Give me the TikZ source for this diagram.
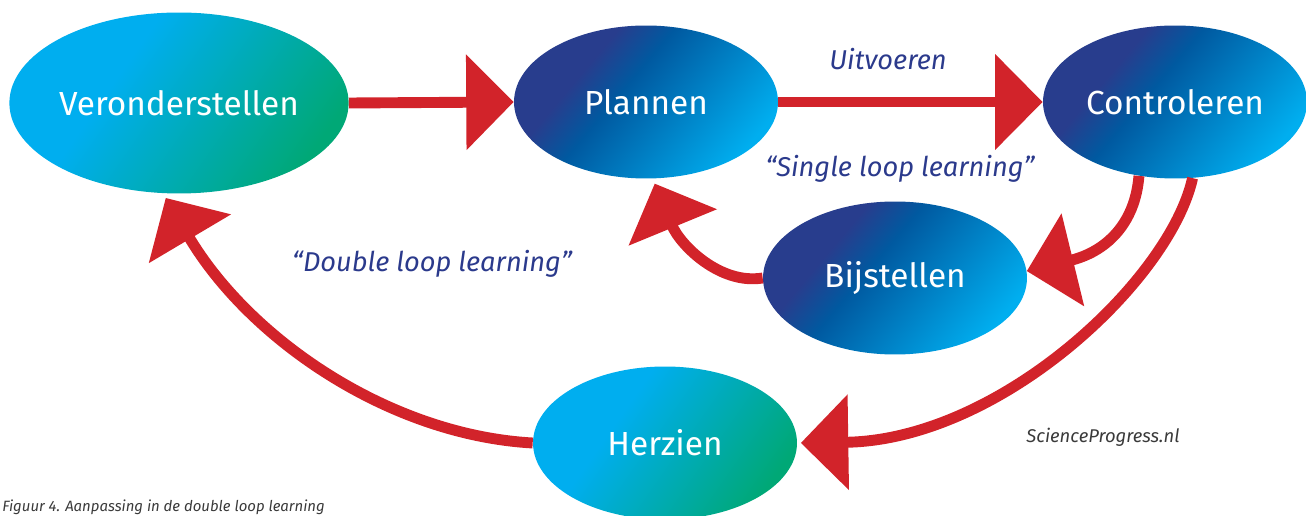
\documentclass[tikz,border=0pt]{standalone}
\usepackage{fontspec}
\setmainfont{Fira Sans}
\usepackage{xcolor}
\usepackage{tikz}
\usetikzlibrary{arrows.meta,shapes.geometric}

\definecolor{arrowred}{HTML}{D2232A}
\definecolor{labelblue}{HTML}{2B3A8C}
\definecolor{credgray}{HTML}{3A3A3A}
\definecolor{cyanv}{HTML}{00AEEF}
\definecolor{greenv}{HTML}{00A876}
\definecolor{planblue1}{HTML}{283D8D}
\definecolor{planblue2}{HTML}{0059A0}
\definecolor{planblue3}{HTML}{00AEEF}

\pgfdeclarehorizontalshading{bluefill}{100bp}{color(0bp)=(planblue1); color(34bp)=(planblue1); color(44bp)=(planblue2); color(75bp)=(planblue3); color(100bp)=(planblue3)}
\pgfdeclarehorizontalshading{greenfill}{100bp}{color(0bp)=(cyanv); color(38bp)=(cyanv); color(75bp)=(greenv); color(100bp)=(greenv)}

\newcommand\ovalfont{\fontsize{19}{23}\selectfont}
\newcommand\loopfont{\itshape\fontsize{15.5}{19}\selectfont}

\begin{document}
\begin{tikzpicture}[x=0.02cm,y=-0.02cm,
    oval/.style={ellipse,inner sep=0pt,text=white,font=\ovalfont,
      minimum width=5.28cm,minimum height=3.06cm},
    ovalgreen/.style={oval,shade,shading=greenfill,shading angle=-35},
    ovalblue/.style={oval,shade,shading=bluefill,shading angle=-40},
    redarrow/.style={draw=arrowred,line width=6.2pt,
      -{Triangle[length=27pt,width=53pt]}},
    looplabel/.style={text=labelblue,font=\loopfont}]
  \useasboundingbox (0,0) rectangle (1306,516);

  \node[ovalgreen,minimum width=6.76cm,minimum height=3.62cm] (veron) at (179,103) {Veronderstellen};
  \node[ovalblue] (plannen) at (646,102) {Plannen};
  \node[ovalblue] (controle) at (1175,102) {Controleren};
  \node[ovalblue] (bijstel) at (895,278) {Bijstellen};
  \node[ovalgreen] (herzien) at (665,443) {Herzien};

  \draw[redarrow] (veron.east) -- (plannen.west);
  \draw[redarrow] (plannen.east) -- (controle.west);
  \draw[redarrow] (controle.-116) .. controls (1135,225) and (1105,252) .. (bijstel.3);
  \draw[redarrow,shorten >=3pt] (bijstel.west) .. controls (720,285) and (680,245) .. (plannen.-85);
  \draw[redarrow,shorten >=2pt] (controle.-77) .. controls (1170,280) and (1000,440) .. (herzien.east);
  \draw[redarrow,shorten >=3pt] (herzien.west) .. controls (390,435) and (250,340) .. (veron.-100);

  \node[looplabel] (uitvoer) at (888,59) {Uitvoeren};
  \node[looplabel] (single) at (900,169) {“Single loop learning”};
  \node[looplabel] (double) at (432,264) {“Double loop learning”};
  \node[text=credgray,font=\itshape\fontsize{10.5}{13}\selectfont] (credit) at (1103,437) {ScienceProgress.nl};
  \node[anchor=south west,inner sep=0pt,text=credgray,font=\itshape\fontsize{8.5}{10}\selectfont] (caption) at (2,515) {Figuur 4. Aanpassing in de double loop learning};
\end{tikzpicture}
\end{document}
